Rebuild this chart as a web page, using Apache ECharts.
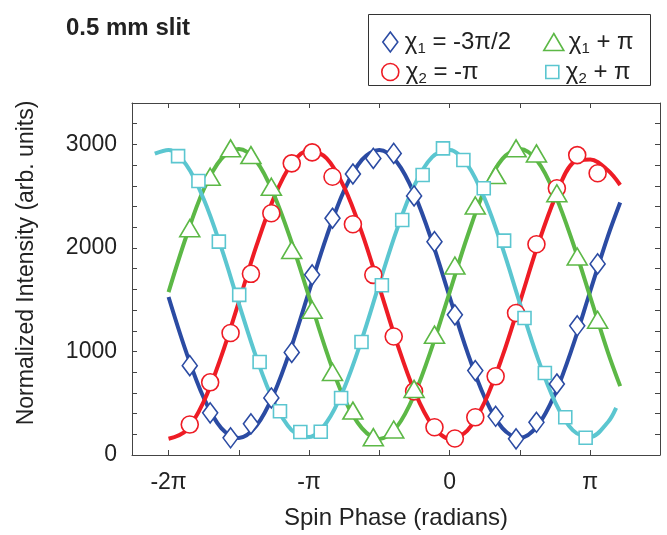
<!DOCTYPE html>
<html><head><meta charset="utf-8">
<script src="https://cdn.jsdelivr.net/npm/echarts@6/dist/echarts.min.js"></script>
<style>html,body{margin:0;padding:0;background:#fff}#c{width:667px;height:535px}</style>
</head><body><div id="c"></div>
<script>
// ---- data (phase in radians, intensity in arb. units) ----
const phaseA = [-5.809,-5.353,-4.897,-4.442,-3.986,-3.530,-3.074,-2.619,-2.163,-1.707,-1.251,-0.796,-0.340,0.116,0.572,1.027,1.483,1.939,2.395,2.850,3.306];
const phaseB = [-6.070,-5.615,-5.159,-4.704,-4.248,-3.793,-3.338,-2.882,-2.427,-1.971,-1.516,-1.061,-0.605,-0.150,0.306,0.761,1.216,1.672,2.127,2.583,3.038];
const chi1    = [863,407,166,301,551,991,1740,2287,2714,2865,2913,2502,2061,1354,815,374,156,316,686,1248,1846];
const chi2    = [294,702,1178,1750,2335,2817,2923,2688,2229,1740,1145,615,268,159,364,760,1371,2036,2576,2897,2721];
const chi1pi  = [2190,2688,2962,2897,2591,1981,1403,802,429,172,246,638,1162,1830,2410,2704,2962,2913,2528,1917,1306];
const chi2pi  = [2887,2646,2061,1547,898,422,222,224,551,1091,1639,2270,2704,2962,2849,2576,2071,1323,792,364,166];

const fitX = [-6.283,-5.890,-5.498,-5.105,-4.712,-4.320,-3.927,-3.534,-3.142,-2.749,-2.356,-1.963,-1.571,-1.178,-0.785,-0.393,0,0.393,0.785,1.178,1.571,1.963,2.356,2.749,3.142,3.534,3.81];
const fitChi1   = [1526,996,553,260,165,282,593,1049,1583,2112,2559,2851,2945,2827,2515,2061,1526,996,553,260,165,282,593,1049,1584,2112,2439];
const fitChi2   = [157,236,515,952,1480,2019,2486,2812,2943,2865,2585,2148,1620,1081,614,290,157,236,515,952,1480,2019,2486,2820,2855,2750,2608];
const fitChi1pi = [1574,2108,2564,2860,2955,2837,2514,2055,1527,994,544,260,155,274,588,1045,1574,2108,2564,2860,2955,2837,2514,2055,1526,994,665];
const fitX2 = [-6.59,-6.283,-5.890,-5.498,-5.105,-4.712,-4.320,-3.927,-3.534,-3.142,-2.749,-2.356,-1.963,-1.571,-1.178,-0.785,-0.393,0,0.393,0.785,1.178,1.571,1.963,2.356,2.749,3.142,3.534,3.72];
const fitChi2pi = [2911,2947,2804,2472,2002,1463,941,511,241,173,316,648,1118,1657,2180,2609,2878,2947,2804,2472,2002,1463,941,511,241,173,316,455];

const xTickLabels = ['-2π','-π','0','π'];
const names = ['χ{s|1} = -3π/2','χ{s|2} = -π','χ{s|1} + π','χ{s|2} + π'];

// ---- styling ----
const FONT = '"Liberation Sans", Arial, sans-serif';
const colors = ['#2b4ba3','#ee1c25','#5cb846','#5bc6d0'];
const symbols = ['diamond','circle','triangle','rect'];
const sizes = [[15,20],17,[20,17],13];
const PI = Math.PI;
const halfPiTicks = [-2*PI,-1.5*PI,-PI,-0.5*PI,0,0.5*PI,PI];
const labelTicks = [-2*PI,-PI,0,PI];

const zip = (xs, ys) => xs.map((x,i)=>[x, ys[i]]);
const markerSets = [zip(phaseA,chi1), zip(phaseA,chi2), zip(phaseA,chi1pi), zip(phaseB,chi2pi)];
const fitSets = [zip(fitX,fitChi1), zip(fitX,fitChi2), zip(fitX,fitChi1pi), zip(fitX2,fitChi2pi)];

const series = [];
fitSets.forEach((d,i)=>series.push({
  type:'line', name:'fit'+i, data:d, smooth:0.35, showSymbol:false, symbol:'none',
  lineStyle:{color:colors[i], width:4}, z:2, silent:true
}));
markerSets.forEach((d,i)=>series.push({
  type:'scatter', name:names[i], data:d, symbol:symbols[i], symbolSize:sizes[i],
  itemStyle:{color:'#fff', borderColor:colors[i], borderWidth:1.6, opacity:1}, z:5
}));

const rich = {s:{fontSize:15, fontFamily:FONT, color:'#222', lineHeight:28, verticalAlign:'bottom'}};
function legendAt(i, left, top, w, h, pad){
  return {
    data:[{name:names[i], icon:symbols[i], itemStyle:{color:'#fff', borderColor:colors[i], borderWidth:1.6}}],
    left:left, top:top, itemWidth:w, itemHeight:h, selectedMode:false,
    formatter:n=>n,
    textStyle:{fontFamily:FONT, fontSize:24, color:'#222', lineHeight:28, rich:rich, padding:[0,0,0,pad]}
  };
}

const tickStyle = {lineStyle:{color:'#444'}};
const lineStyleAx = {onZero:false, lineStyle:{color:'#444', width:1}};

const option = {
  animation:false,
  backgroundColor:'#fff',
  title:{text:'0.5 mm slit', left:61, top:11, textStyle:{fontFamily:FONT, fontWeight:'bold', fontSize:24, color:'#222'}},
  graphic:[
    {type:'rect', shape:{x:368.5, y:14.5, width:282, height:71}, style:{fill:'none', stroke:'#333', lineWidth:1}, z:1},
    {type:'text', x:27, y:263, rotation:Math.PI/2,
      style:{text:'Normalized Intensity (arb. units)', font:'23px "Liberation Sans", Arial, sans-serif', fill:'#222', textAlign:'center', textVerticalAlign:'middle'}}
  ],
  legend:[legendAt(0,377,23,15,20,2), legendAt(1,376,53,17,17,2), legendAt(2,538,23,20,17,0), legendAt(3,540,53,13,13,2)],
  grid:{left:132, right:7, top:103, bottom:79},
  xAxis:[
    {type:'value', min:-7.1, max:4.7, position:'bottom',
      name:'Spin Phase (radians)', nameLocation:'middle', nameGap:51,
      nameTextStyle:{fontFamily:FONT, fontSize:24, color:'#222'},
      axisLine:lineStyleAx, splitLine:{show:false},
      axisTick:Object.assign({inside:true, length:5, customValues:halfPiTicks}, tickStyle),
      axisLabel:{customValues:labelTicks, fontFamily:FONT, fontSize:23, color:'#222', margin:16,
        formatter:(v)=>{const k=Math.round(v/PI); return xTickLabels[k+2];}}
    },
    {type:'value', min:-7.1, max:4.7, position:'top', axisLabel:{show:false},
      axisLine:lineStyleAx, splitLine:{show:false},
      axisTick:Object.assign({inside:true, length:5, customValues:halfPiTicks}, tickStyle)}
  ],
  yAxis:[
    {type:'value', min:0, max:3400, interval:200, position:'left',
      axisLine:lineStyleAx, splitLine:{show:false},
      axisTick:Object.assign({inside:true, length:5}, tickStyle),
      axisLabel:{fontFamily:FONT, fontSize:23, color:'#222', margin:15,
        formatter:(v)=> (v%1000===0 ? String(v) : '')}
    },
    {type:'value', min:0, max:3400, interval:200, position:'right', axisLabel:{show:false},
      axisLine:lineStyleAx, splitLine:{show:false},
      axisTick:Object.assign({inside:true, length:5}, tickStyle)}
  ],
  series:series
};
const chart = echarts.init(document.getElementById('c'), null, {renderer:'canvas'});
chart.setOption(option);
</script></body></html>
